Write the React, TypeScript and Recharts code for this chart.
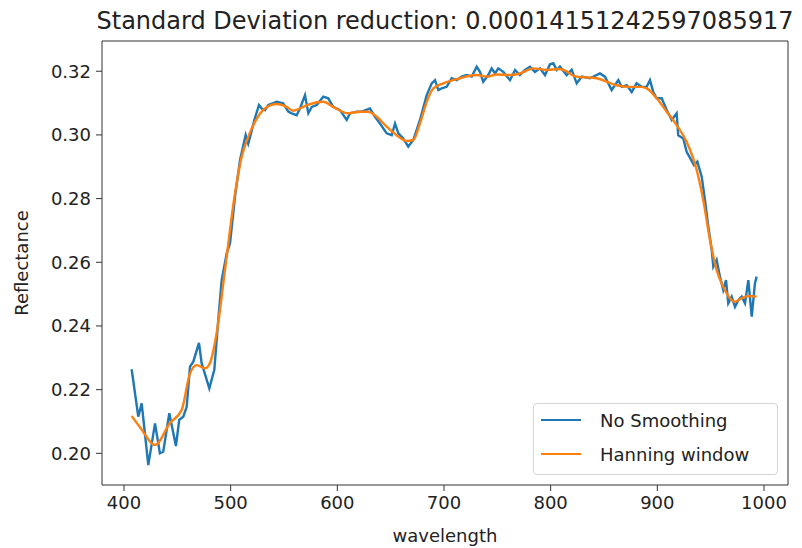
import React from 'react';
import { LineChart, Line, XAxis, YAxis, Legend, Label, ReferenceLine } from 'recharts';

const titleText = 'Standard Deviation reduction: 0.00014151242597085917';
const xLabel = 'wavelength';
const yLabel = 'Reflectance';
const seriesNames = ['No Smoothing', 'Hanning window'];
const seriesColors = ['#1f77b4', '#ff7f0e'];
const xTicks = [400, 500, 600, 700, 800, 900, 1000];
const yTicks = [0.2, 0.22, 0.24, 0.26, 0.28, 0.3, 0.32];
const xDomain = [379.4, 1022.5];
const yDomain = [0.19005, 0.3295];

const rawWavelengths = [
  407.2, 413.4, 416.6, 422.8, 429.1, 433.7, 436.8, 442.5, 448.7, 451.8, 455.6, 458.8, 461.9, 465.0,
  470.3, 472.8, 480.0, 484.7, 488.4, 491.6, 496.3, 499.4, 504.1, 508.8, 514.1, 516.5, 519.1, 522.2,
  526.6, 529.1, 532.2, 535.3, 543.2, 549.3, 554.0, 557.2, 561.9, 565.0, 569.7, 572.8, 576.0, 580.7,
  586.8, 591.5, 596.2, 602.5, 608.8, 611.9, 618.2, 622.8, 630.6, 635.3, 640.0, 646.3, 651.0, 654.1,
  657.2, 661.8, 666.5, 671.2, 677.5, 683.8, 688.5, 691.6, 694.7, 697.8, 702.5, 707.2, 711.9, 716.6,
  721.3, 726.0, 730.7, 733.7, 736.8, 741.5, 744.7, 747.8, 750.9, 755.6, 761.9, 766.6, 771.2, 775.9,
  780.6, 785.3, 790.0, 794.7, 799.4, 802.5, 805.6, 808.7, 815.0, 819.7, 824.4, 829.1, 836.9, 846.2,
  850.9, 857.2, 863.4, 866.6, 871.3, 876.0, 880.6, 885.3, 890.0, 893.1, 896.2, 899.4, 904.1, 908.8,
  913.5, 918.1, 919.6, 924.3, 927.5, 934.4, 937.5, 941.6, 944.7, 947.8, 951.0, 952.5, 955.6, 958.7,
  961.8, 964.4, 966.5, 969.7, 972.8, 975.9, 979.1, 982.2, 985.3, 988.5, 991.5, 993.1,
];
const rawValues = [
  0.2264, 0.2115, 0.2157, 0.1963, 0.2094, 0.2, 0.2005, 0.2126, 0.2023, 0.2105, 0.2115, 0.2146, 0.2272, 0.2288,
  0.2347, 0.2283, 0.2204, 0.2262, 0.2419, 0.2544, 0.2628, 0.2659, 0.2806, 0.2921, 0.3, 0.2973, 0.3005, 0.3047,
  0.3094, 0.3083, 0.3078, 0.3094, 0.3104, 0.3099, 0.3073, 0.3068, 0.3062, 0.3083, 0.3125, 0.3068, 0.3088, 0.3094,
  0.312, 0.3115, 0.3088, 0.3078, 0.3047, 0.3068, 0.3073, 0.3073, 0.3083, 0.3057, 0.3036, 0.3005, 0.2999, 0.3036,
  0.3005, 0.2989, 0.2963, 0.2984, 0.3047, 0.3125, 0.3162, 0.3172, 0.3141, 0.3146, 0.3151, 0.3178, 0.3172, 0.3183,
  0.3188, 0.3183, 0.3214, 0.3198, 0.3167, 0.3188, 0.3209, 0.3193, 0.3209, 0.3198, 0.3172, 0.3204, 0.3188, 0.3204,
  0.3214, 0.3198, 0.3209, 0.3188, 0.3222, 0.3225, 0.3204, 0.3215, 0.3188, 0.3205, 0.3162, 0.3183, 0.3178, 0.3193,
  0.3183, 0.3141, 0.3172, 0.3151, 0.3156, 0.3135, 0.3162, 0.3151, 0.3151, 0.3172, 0.3135, 0.3115, 0.3115, 0.3078,
  0.3047, 0.3068, 0.2999, 0.2989, 0.2947, 0.2905, 0.2916, 0.2869, 0.2795, 0.2712, 0.2638, 0.2586, 0.2607, 0.2555,
  0.2513, 0.2544, 0.2471, 0.2492, 0.246, 0.2481, 0.2492, 0.2471, 0.2544, 0.2429, 0.2534, 0.2555,
];

const smoothWavelengths = [
  407.2, 415.7, 429.1, 443.1, 454.1, 461.9, 468.2, 475.9, 480.6, 486.9, 494.7, 504.1, 510.3, 516.5,
  522.8, 532.2, 543.2, 552.5, 558.7, 566.6, 574.4, 586.8, 596.2, 610.3, 621.2, 629.0, 636.9, 646.3,
  655.6, 665.0, 671.2, 677.5, 683.8, 690.0, 699.3, 715.0, 730.7, 740.0, 749.4, 761.9, 771.2, 783.7,
  796.3, 808.7, 824.4, 843.1, 852.5, 861.9, 874.4, 883.7, 890.0, 899.4, 908.8, 918.1, 927.5, 936.9,
  943.1, 949.4, 955.6, 961.8, 968.1, 972.8, 979.1, 985.3, 993.1,
];
const smoothValues = [
  0.2117, 0.2079, 0.2026, 0.2095, 0.2136, 0.2251, 0.2277, 0.2267, 0.2284, 0.2378, 0.2576, 0.2817, 0.2931, 0.2994,
  0.3041, 0.3083, 0.3097, 0.3088, 0.3076, 0.3086, 0.3097, 0.3104, 0.3088, 0.3068, 0.3073, 0.3073, 0.3057, 0.3026,
  0.2999, 0.2981, 0.2984, 0.3036, 0.3104, 0.3146, 0.3162, 0.3178, 0.3188, 0.3183, 0.319, 0.3188, 0.3193, 0.3209,
  0.3204, 0.3207, 0.3183, 0.3178, 0.3167, 0.3156, 0.3151, 0.3151, 0.3146, 0.3115, 0.3073, 0.3031, 0.2978, 0.289,
  0.2795, 0.267, 0.2576, 0.2523, 0.2487, 0.2476, 0.2487, 0.2494, 0.2492,
];

const rawData = rawWavelengths.map((w, i) => ({ w, v: rawValues[i] }));
const smoothData = smoothWavelengths.map((w, i) => ({ w, v: smoothValues[i] }));

const FONT = "'DejaVu Sans', sans-serif";
const TICK_STYLE = { fontFamily: FONT, fontSize: 18, fill: '#222' };
const AXIS_COLOR = '#333';

const renderLegend = () => (
  <div
    style={{
      boxSizing: 'border-box',
      width: 245,
      height: 72,
      border: '1px solid #d4d4d4',
      borderRadius: 4,
      background: 'rgba(255,255,255,0.8)',
      position: 'relative',
      fontFamily: FONT,
      fontSize: 18,
      color: '#222',
    }}
  >
    {seriesNames.map((name, i) => (
      <div
        key={name}
        style={{
          position: 'absolute',
          left: 7,
          top: 3 + i * 34,
          height: 26,
          display: 'flex',
          alignItems: 'center',
          whiteSpace: 'nowrap',
        }}
      >
        <div style={{ width: 40, height: 0, borderTop: `2.4px solid ${seriesColors[i]}` }} />
        <span style={{ marginLeft: 19 }}>{name}</span>
      </div>
    ))}
  </div>
);

export default function App() {
  return (
    <div style={{ position: 'absolute', left: 0, top: 0, width: 802, height: 548, background: '#fff' }}>
      <LineChart width={802} height={548} margin={{ top: 41, right: 14, bottom: 0, left: 0 }}>
        <XAxis
          xAxisId={0}
          dataKey="w"
          type="number"
          domain={xDomain}
          ticks={xTicks}
          allowDataOverflow
          height={63}
          tickSize={6}
          tickMargin={5}
          stroke={AXIS_COLOR}
          tick={TICK_STYLE}
          tickLine={{ stroke: AXIS_COLOR }}
          axisLine={{ stroke: AXIS_COLOR }}
        >
          <Label value={xLabel} position="insideBottom" offset={6} style={{ fontFamily: FONT, fontSize: 18, fill: '#222' }} />
        </XAxis>
        <YAxis
          yAxisId={0}
          type="number"
          domain={yDomain}
          ticks={yTicks}
          allowDataOverflow
          width={102}
          tickSize={6}
          tickMargin={5}
          stroke={AXIS_COLOR}
          tick={TICK_STYLE}
          tickFormatter={(v: number) => v.toFixed(2)}
          tickLine={{ stroke: AXIS_COLOR }}
          axisLine={{ stroke: AXIS_COLOR }}
        >
          <Label value={yLabel} angle={-90} position="center" dx={-29} style={{ fontFamily: FONT, fontSize: 18, fill: '#222' }} />
        </YAxis>
        <ReferenceLine xAxisId={0} yAxisId={0} y={yDomain[1]} stroke={AXIS_COLOR} strokeWidth={1} ifOverflow="visible">
          <Label value={titleText} position="top" offset={12} style={{ fontFamily: FONT, fontSize: 24, fill: '#222' }} />
        </ReferenceLine>
        <ReferenceLine xAxisId={0} yAxisId={0} x={xDomain[1]} stroke={AXIS_COLOR} strokeWidth={1} ifOverflow="visible" />
        <Legend
          layout="vertical"
          align="center"
          verticalAlign="middle"
          content={renderLegend}
          wrapperStyle={{ left: 533, top: 403, width: 245, height: 72 }}
        />
        <Line
          xAxisId={0}
          yAxisId={0}
          data={rawData}
          dataKey="v"
          name={seriesNames[0]}
          type="linear"
          stroke={seriesColors[0]}
          strokeWidth={2.4}
          dot={false}
          activeDot={false}
          isAnimationActive={false}
        />
        <Line
          xAxisId={0}
          yAxisId={0}
          data={smoothData}
          dataKey="v"
          name={seriesNames[1]}
          type="monotone"
          stroke={seriesColors[1]}
          strokeWidth={2.4}
          dot={false}
          activeDot={false}
          isAnimationActive={false}
        />
      </LineChart>
    </div>
  );
}
